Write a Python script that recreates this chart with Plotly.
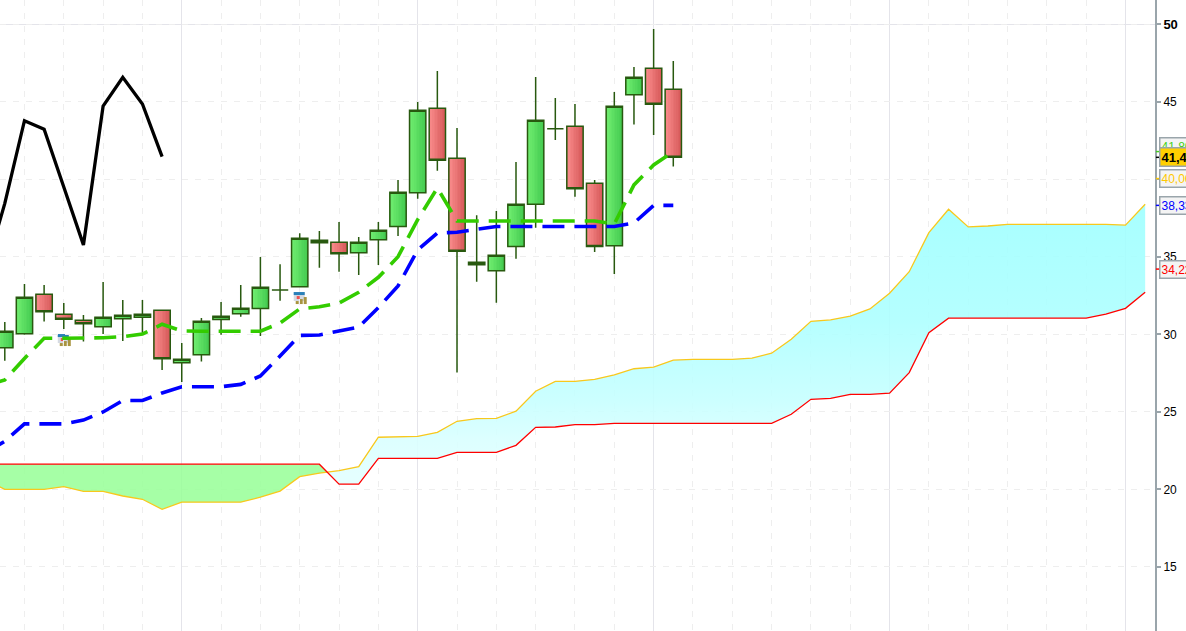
import plotly.graph_objects as go

candle_x = list(range(35))
opens = [29.15,30.05,32.59,31.30,30.92,30.50,31.02,31.11,31.56,28.18,28.70,30.96,31.34,31.67,32.87,33.08,35.92,35.95,35.28,36.12,36.96,39.15,44.59,41.37,34.50,34.12,35.67,38.40,43.28,43.43,39.76,35.73,45.47,47.17,45.82]
highs = [30.81,33.26,33.19,32.03,31.26,33.39,32.23,32.23,31.56,29.45,31.06,32.10,33.19,35.00,34.53,36.53,36.68,37.26,36.29,37.26,39.97,45.00,47.00,43.32,37.69,37.97,41.13,46.61,45.26,44.87,39.97,45.65,47.26,49.71,47.65]
lows = [28.31,29.99,30.83,30.36,29.54,30.03,29.58,29.97,27.71,26.94,28.25,29.99,31.15,29.90,32.18,33.08,34.31,34.05,33.84,34.48,36.36,38.76,40.57,27.54,33.41,32.05,34.89,36.89,42.55,38.89,35.32,33.90,43.54,42.87,40.83]
closes = [30.21,32.40,31.47,30.98,30.70,31.11,31.24,31.30,28.44,28.40,30.85,31.18,31.69,33.05,32.87,36.21,36.08,35.21,35.95,36.72,39.17,44.46,41.24,35.37,34.66,35.11,38.40,43.82,43.28,39.41,35.67,44.72,46.59,44.85,41.43]

green_x = list(range(-1, 35))
green_line = [26.68,27.07,28.45,29.76,29.76,29.76,29.79,29.86,30.03,30.66,30.23,30.21,30.21,30.21,30.21,30.74,31.65,31.79,32.03,32.72,33.69,35.02,37.41,39.45,37.32,37.32,37.32,37.32,37.32,37.32,37.32,37.32,37.13,39.65,40.94,41.80]
blue_line = [22.36,23.11,24.23,24.23,24.23,24.48,25.00,25.74,25.74,26.23,26.63,26.63,26.63,26.78,27.32,28.61,29.94,29.97,30.23,30.48,31.73,33.13,35.45,36.55,36.60,36.77,36.97,36.97,36.97,36.97,36.97,36.97,36.97,37.19,38.33,38.33]

black_x = list(range(-1, 9))
black_line = [34.03,38.46,43.79,43.24,39.52,35.78,44.74,46.59,44.87,41.47]

cloud_x = list(range(-1, 59))
cloud_a = [20.61,20.01,20.01,20.01,20.18,19.88,19.88,19.58,19.37,18.72,19.18,19.18,19.18,19.18,19.50,19.90,20.83,21.05,21.21,21.47,23.37,23.39,23.43,23.69,24.40,24.57,24.59,25.05,26.34,26.98,26.98,27.11,27.39,27.79,27.90,28.34,28.40,28.40,28.40,28.48,28.79,29.69,30.85,30.94,31.19,31.65,32.66,34.05,36.57,38.08,36.94,37.00,37.11,37.11,37.11,37.11,37.11,37.11,37.05,38.40]
cloud_b = [21.63,21.63,21.63,21.63,21.63,21.63,21.63,21.63,21.63,21.63,21.63,21.63,21.63,21.63,21.63,21.63,21.63,21.63,20.34,20.34,22.01,22.01,22.01,22.01,22.40,22.40,22.40,22.85,24.01,24.03,24.18,24.18,24.27,24.27,24.27,24.27,24.27,24.27,24.27,24.27,24.27,24.85,25.82,25.88,26.14,26.14,26.21,27.54,30.12,31.05,31.05,31.05,31.05,31.05,31.05,31.05,31.05,31.32,31.69,32.72]

y_ticks = [15, 20, 25, 30, 35, 40, 45, 50]
y_tick_text = ["15", "20", "25", "30", "35", "", "45", "<b><span style='font-size:13px'>50</span></b>"]

tag_values = [41.80, 40.06, 38.33, 34.22, 41.43]
tag_texts = ["41,80", "40,06", "38,33", "34,22", "<b>41,43</b>"]
tag_colors = ["#45d020", "#ffc800", "#0000ff", "#ff0000", "#000000"]
tag_shifts = [5, 0, 0, 0, 0]

event_x = [3, 15]
event_y = [29.77, 32.48]

AXIS = "#9aa5ab"
WICK = "#28590f"
SLICES = 10
BODY = 0.83


def mix(c0, c1, t):
    return "rgb(%d,%d,%d)" % tuple(round(a + (b - a) * t) for a, b in zip(c0, c1))


fig = go.Figure()

# gradient candle bodies
for k in range(SLICES):
    t = k / (SLICES - 1)
    up = mix((112, 238, 112), (70, 204, 82), t)
    down = mix((250, 140, 140), (216, 92, 92), t)
    fig.add_trace(go.Bar(
        x=candle_x,
        y=[abs(c - o) for o, c in zip(opens, closes)],
        base=[min(o, c) for o, c in zip(opens, closes)],
        width=BODY / SLICES + 0.006,
        offset=-BODY / 2 + k * BODY / SLICES,
        marker=dict(color=[up if c >= o else down for o, c in zip(opens, closes)], line=dict(width=0)),
        hoverinfo="skip",
    ))

fig.add_trace(go.Candlestick(
    x=candle_x, open=opens, high=highs, low=lows, close=closes,
    increasing=dict(line=dict(color=WICK, width=1.5), fillcolor="rgba(0,0,0,0)"),
    decreasing=dict(line=dict(color=WICK, width=1.5), fillcolor="rgba(0,0,0,0)"),
    whiskerwidth=0,
))

# cloud: split where the two spans cross
cross = next(i for i in range(len(cloud_x) - 1)
             if (cloud_a[i] - cloud_b[i]) * (cloud_a[i + 1] - cloud_b[i + 1]) < 0)
d0 = cloud_b[cross] - cloud_a[cross]
d1 = cloud_a[cross + 1] - cloud_b[cross + 1]
frac = d0 / (d0 + d1)
cx = cloud_x[cross] + frac
cy = cloud_a[cross] + frac * (cloud_a[cross + 1] - cloud_a[cross])

fig.add_trace(go.Scatter(
    x=cloud_x[:cross + 1] + [cx] + cloud_x[:cross + 1][::-1],
    y=cloud_a[:cross + 1] + [cy] + cloud_b[:cross + 1][::-1],
    fill="toself", fillcolor="rgba(150,255,150,0.85)", mode="none", hoverinfo="skip",
))
fig.add_trace(go.Scatter(
    x=[cx] + cloud_x[cross + 1:] + cloud_x[cross + 1:][::-1],
    y=[cy] + cloud_a[cross + 1:] + cloud_b[cross + 1:][::-1],
    fill="toself", mode="none", hoverinfo="skip",
    fillgradient=dict(type="vertical",
                      colorscale=[[0, "rgba(225,255,255,0.9)"], [0.126, "rgba(217,255,255,0.9)"],
                                  [0.276, "rgba(198,255,255,0.9)"], [0.57, "rgba(173,255,255,0.9)"],
                                  [1, "rgba(158,255,255,0.9)"]],
                      start=21.0, stop=38.4),
))
fig.add_trace(go.Scatter(x=cloud_x, y=cloud_a, mode="lines", line=dict(color="#f8c81c", width=1.3)))
fig.add_trace(go.Scatter(x=cloud_x, y=cloud_b, mode="lines", line=dict(color="#ff0000", width=1.3)))

fig.add_trace(go.Scatter(x=black_x, y=black_line, mode="lines", line=dict(color="#000000", width=3.3)))
fig.add_trace(go.Scatter(x=green_x, y=green_line, mode="lines",
                         line=dict(color="#33cc00", width=3.6, dash="22px,10px")))
fig.add_trace(go.Scatter(x=green_x, y=blue_line, mode="lines",
                         line=dict(color="#0000ff", width=3.6, dash="22px,10px")))

shapes = [dict(type="line", xref="paper", x0=0, x1=1, yref="y", y0=50, y1=50,
               line=dict(color="#e4e4ea", width=1), layer="below")]


def px_rect(x, y, x0, x1, y0, y1, color):
    return dict(type="rect", xref="x", yref="y", xsizemode="pixel", ysizemode="pixel",
                xanchor=x, yanchor=y, x0=x0, x1=x1, y0=y0, y1=y1,
                fillcolor=color, line=dict(width=0), layer="below")


for x, y in zip(event_x, event_y):
    shapes += [
        px_rect(x, y, -6, 5, -5, 4, "#d5dae2"),
        px_rect(x, y, -6, 5, 1, 4, "#2a80b9"),
        px_rect(x, y, -3, 0, -3, 0, "#f05050"),
        px_rect(x, y, -4, -1, -8, -5, "#a89440"),
        px_rect(x, y, 0, 3, -8, -3, "#a89440"),
        px_rect(x, y, 4, 7, -8, -1, "#a89440"),
    ]

for v, c in zip(tag_values, tag_colors):
    shapes.append(dict(type="line", xref="paper", yref="y", x0=1.0008, x1=1.0045, y0=v, y1=v,
                       line=dict(color=c, width=1.5), layer="above"))

annotations = []
for v, t, c, s in zip(tag_values, tag_texts, tag_colors, tag_shifts):
    bold = t.startswith("<b>")
    annotations.append(dict(
        xref="paper", yref="y", x=1.0036, y=v, yshift=s, text=t, showarrow=False,
        xanchor="left", yanchor="middle", align="left",
        font=dict(family="Liberation Sans, Arial, sans-serif", size=13 if bold else 12, color=c),
        bgcolor="#ffd000" if bold else "#f4f4f4", bordercolor=AXIS, borderwidth=1.5, borderpad=1,
    ))

fig.update_layout(
    width=1186, height=631,
    margin=dict(l=0, r=31, t=0, b=0),
    paper_bgcolor="#ffffff", plot_bgcolor="#ffffff",
    showlegend=False, barmode="overlay", boxgap=0.17, boxgroupgap=0,
    shapes=shapes, annotations=annotations,
    xaxis=dict(
        range=[-0.244, 58.5], rangeslider=dict(visible=False), showticklabels=False, ticks="",
        zeroline=False, showline=False, tick0=9, dtick=12,
        showgrid=True, gridcolor="#e4e4ea", gridwidth=1,
        minor=dict(tick0=1, dtick=2, showgrid=True, gridcolor="#eeeeee", gridwidth=1,
                   griddash="6px,7px", ticks=""),
    ),
    yaxis=dict(
        side="right", range=[10.87, 51.58], tickmode="array", tickvals=y_ticks, ticktext=y_tick_text,
        showgrid=True, gridcolor="#eeeeee", gridwidth=1, griddash="6px,7px", zeroline=False,
        showline=True, linecolor=AXIS, linewidth=2, ticks="outside", ticklen=4, tickcolor=AXIS,
        tickwidth=1.5, tickfont=dict(family="Liberation Sans, Arial, sans-serif", size=12, color="#000000"),
    ),
)

fig.write_html("out.html", post_script="document.body.style.margin='0';document.documentElement.style.overflow='hidden';",
               config={"displayModeBar": False})
